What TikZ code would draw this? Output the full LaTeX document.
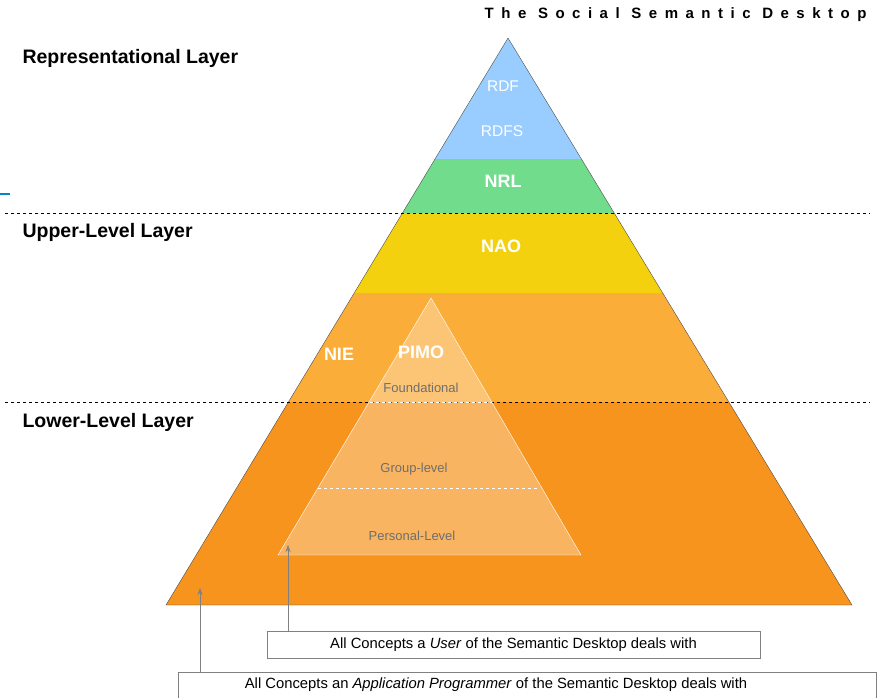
\documentclass[tikz,border=0pt]{standalone}
\usepackage{fontspec}
\setmainfont{Liberation Sans}
\usetikzlibrary{arrows.meta}
\definecolor{rdfblue}{HTML}{99CCFF}
\definecolor{nrlgreen}{HTML}{70DC8C}
\definecolor{naoyellow}{HTML}{F4D10E}
\definecolor{upperorange}{HTML}{FBAD3A}
\definecolor{lowerorange}{HTML}{F7941E}
\definecolor{labelgray}{HTML}{6E6E6E}
\tikzset{
  layerlabel/.style={anchor=west, font=\bfseries\fontsize{19.5}{22}\selectfont},
  ontolabel/.style={text=white, font=\bfseries\fontsize{18}{20}\selectfont},
  rdflabel/.style={text=white, font=\fontsize{15.5}{17}\selectfont},
  pimolabel/.style={text=labelgray, font=\fontsize{13}{15}\selectfont},
  conceptbox/.style={draw=gray, fill=white, inner sep=0pt, font=\fontsize{14.8}{16}\selectfont},
  layerline/.style={dashed, black, thin},
  pointer/.style={draw=gray, thin, -{Stealth[length=7pt, width=5pt]}}
}
\begin{document}
\begin{tikzpicture}[x=1pt, y=-1pt]
\useasboundingbox (0,0) rectangle (888,697);
\clip (0,0) rectangle (888,697);
% Corners of the big pyramid and of the PIMO pyramid
\coordinate (apex) at (508,38); \coordinate (baseLeft) at (166,605); \coordinate (baseRight) at (852,605);
\coordinate (pimoApex) at (431,298); \coordinate (pimoLeft) at (278,555); \coordinate (pimoRight) at (581,555);
% Colour bands, clipped to the big pyramid
\begin{scope}
\clip (apex) -- (baseLeft) -- (baseRight) -- cycle;
\fill[rdfblue] (150,30) rectangle (870,159);
\fill[nrlgreen] (150,159) rectangle (870,213);
\fill[naoyellow] (150,213) rectangle (870,293);
\fill[upperorange] (150,293) rectangle (870,402);
\fill[lowerorange] (150,402) rectangle (870,606);
\end{scope}
\draw[black!70, thin] (apex) -- (baseLeft) -- (baseRight) -- cycle;
\draw[layerline] (5,213) -- (870,213);
\draw[layerline] (5,402) -- (870,402);
% PIMO pyramid
\fill[white, opacity=0.3] (pimoApex) -- (pimoLeft) -- (pimoRight) -- cycle;
\begin{scope}
\clip (pimoApex) -- (pimoLeft) -- (pimoRight) -- cycle;
\draw[dashed, white] (250,402) -- (620,402);
\end{scope}
\draw[dashed, white] (318,488) -- (538,488);
\draw[white, thin] (pimoApex) -- (pimoLeft) -- (pimoRight) -- cycle;
\draw[line width=2pt, color={rgb,255:red,0;green,136;blue,204}] (0,194) -- (10,194);
% Labels
\node[font=\bfseries\fontsize{15}{17}\selectfont\addfontfeatures{LetterSpace=50}, anchor=east] (title) at (870,15) {The Social Semantic Desktop};
\node[layerlabel] (repLayer) at (19,58) {Representational Layer};
\node[layerlabel] (upperLayer) at (19,232) {Upper-Level Layer};
\node[layerlabel] (lowerLayer) at (19,422) {Lower-Level Layer};
\node[rdflabel] (rdf) at (503,86) {RDF};
\node[rdflabel] (rdfs) at (502,131) {RDFS};
\node[ontolabel] (nrl) at (503,181) {NRL};
\node[ontolabel] (nao) at (501,246) {NAO};
\node[ontolabel] (nie) at (339,354) {NIE};
\node[ontolabel] (pimo) at (421,352) {PIMO};
\node[pimolabel] (foundational) at (421,388) {Foundational};
\node[pimolabel] (group) at (414,469) {Group-level};
\node[pimolabel] (personal) at (412,536) {Personal-Level};
% Concept boxes and pointers
\node[conceptbox, minimum width=493pt, minimum height=27pt] (user) at (513.5,644.5) {All Concepts a \emph{User} of the Semantic Desktop deals with};
\node[conceptbox, minimum width=698pt, minimum height=40pt, text depth=0pt] (programmer) at (527,692) {};
\node[font=\fontsize{14.8}{16}\selectfont] (programmerText) at (496,685) {All Concepts an \emph{Application Programmer} of the Semantic Desktop deals with};
\coordinate (userTip) at (288,545);
\coordinate (programmerTip) at (200,588);
\draw[pointer] (user.north -| userTip) -- (userTip);
\draw[pointer] (programmer.north -| programmerTip) -- (programmerTip);
\end{tikzpicture}
\end{document}
